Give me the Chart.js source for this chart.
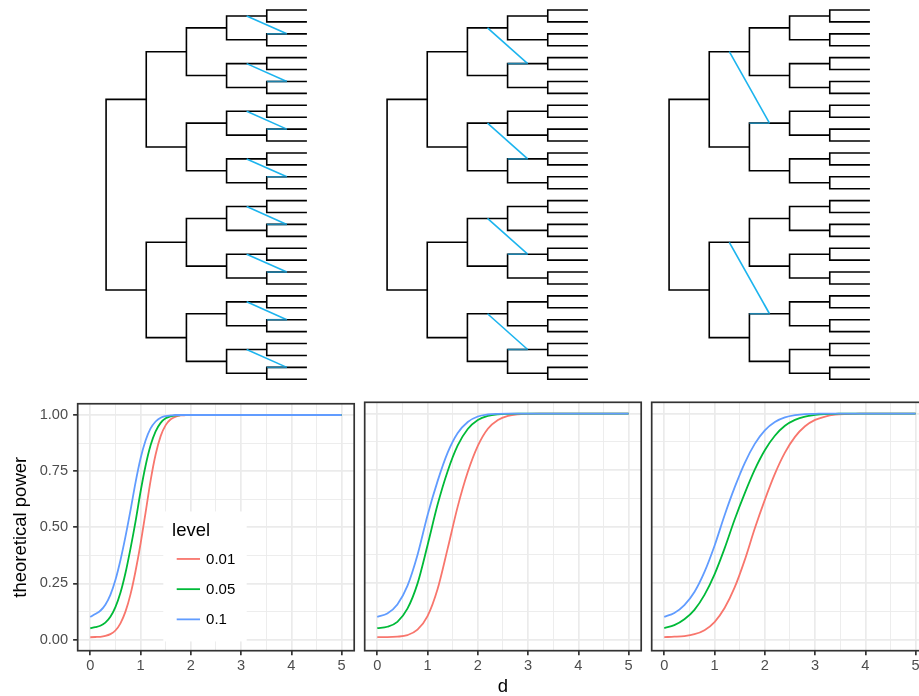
<!DOCTYPE html>
<html lang="en">
<head>
<meta charset="utf-8">
<title>Transfers on balanced trees and theoretical power</title>
<script src="https://cdn.jsdelivr.net/npm/chart.js@4.4.1/dist/chart.umd.min.js"></script>
<style>
  html, body { margin: 0; padding: 0; background: #fff; overflow: hidden; }
  body { width: 919px; height: 696px; position: relative; }
  canvas { position: absolute; }
</style>
</head>
<body>
<canvas id="tree1" width="241" height="390" style="left:86px;top:0"></canvas>
<canvas id="tree2" width="241" height="390" style="left:367px;top:0"></canvas>
<canvas id="tree3" width="241" height="390" style="left:649px;top:0"></canvas>
<canvas id="power1" width="360" height="306" style="left:0;top:390px"></canvas>
<canvas id="power2" width="290" height="306" style="left:360px;top:390px"></canvas>
<canvas id="power3" width="290" height="306" style="left:647px;top:390px"></canvas>
<script>
// --- data ---
const leafCount = 32;
const transferCladeSize = [4, 8, 16]; // one transfer inside every clade of this size

const levels = ['0.01', '0.05', '0.1'];
const levelColors = ['#F8766D', '#00BA38', '#619CFF'];
const legendTitle = 'level';

const dTicks = [0, 1, 2, 3, 4, 5];
const powerTicks = [0, 0.25, 0.5, 0.75, 1];

// panel 1 (steeper curves, sampled finer)
const dPanel1 = [0, 0.1, 0.2, 0.3, 0.4, 0.5, 0.6, 0.7, 0.8, 0.9, 1.0,
                 1.1, 1.2, 1.3, 1.4, 1.5, 1.6, 1.7, 1.8, 1.9, 2.0, 2.5, 3, 4, 5];
const p1Level01 = [0.010, 0.011, 0.012, 0.016, 0.024, 0.040, 0.072, 0.124, 0.201, 0.304, 0.426,
                   0.565, 0.708, 0.824, 0.906, 0.955, 0.981, 0.993, 0.998, 0.999, 1, 1, 1, 1, 1];
const p1Level05 = [0.050, 0.055, 0.061, 0.075, 0.101, 0.144, 0.208, 0.296, 0.405, 0.525, 0.658,
                   0.774, 0.865, 0.927, 0.965, 0.985, 0.994, 0.998, 0.999, 1, 1, 1, 1, 1, 1];
const p1Level10 = [0.100, 0.113, 0.128, 0.155, 0.199, 0.265, 0.353, 0.458, 0.575, 0.699, 0.806,
                   0.886, 0.940, 0.971, 0.988, 0.995, 0.998, 1, 1, 1, 1, 1, 1, 1, 1];

// panels 2 and 3
const dValues = [0, 0.2, 0.4, 0.6, 0.8, 1.0, 1.2, 1.4, 1.6, 1.8, 2.0,
                 2.2, 2.4, 2.6, 2.8, 3.0, 3.2, 3.4, 3.6, 3.8, 4.0, 5.0];
const p2Level01 = [0.010, 0.010, 0.012, 0.019, 0.043, 0.103, 0.223, 0.402, 0.588, 0.741, 0.857,
                   0.933, 0.972, 0.990, 0.997, 0.999, 1, 1, 1, 1, 1, 1];
const p2Level05 = [0.050, 0.056, 0.078, 0.136, 0.247, 0.417, 0.597, 0.745, 0.859, 0.932, 0.972,
                   0.990, 0.997, 0.999, 1, 1, 1, 1, 1, 1, 1, 1];
const p2Level10 = [0.100, 0.115, 0.155, 0.237, 0.374, 0.550, 0.701, 0.827, 0.914, 0.963, 0.987,
                   0.996, 0.999, 1, 1, 1, 1, 1, 1, 1, 1, 1];
const p3Level01 = [0.010, 0.012, 0.015, 0.023, 0.041, 0.077, 0.139, 0.230, 0.351, 0.491, 0.618,
                   0.733, 0.827, 0.897, 0.944, 0.972, 0.987, 0.995, 0.998, 0.999, 1, 1];
const p3Level05 = [0.050, 0.063, 0.089, 0.131, 0.197, 0.288, 0.403, 0.531, 0.647, 0.752, 0.838,
                   0.902, 0.946, 0.972, 0.987, 0.994, 0.998, 0.999, 1, 1, 1, 1];
const p3Level10 = [0.100, 0.117, 0.152, 0.210, 0.299, 0.415, 0.550, 0.673, 0.781, 0.866, 0.926,
                   0.963, 0.983, 0.993, 0.998, 0.999, 1, 1, 1, 1, 1, 1];

// --- styles ---
Chart.defaults.font.family = '"Liberation Sans", Arial, sans-serif';
const transferBlue = '#1CB4EE';
const transferBlueDark = '#1D7FA8';
const gridColor = '#EBEBEB';
const borderColor = '#333333';

// balanced binary tree, leaves at the deepest level
function buildClade(lo, hi, depth) {
    if (hi - lo === 1) return { depth: depth, y: lo, size: 1, kids: [] };
    const mid = (lo + hi) / 2;
    const a = buildClade(lo, mid, depth + 1);
    const b = buildClade(mid, hi, depth + 1);
    return { depth: depth, y: (a.y + b.y) / 2, size: hi - lo, kids: [a, b] };
}

function walk(node, fn) {
    fn(node);
    node.kids.forEach(k => walk(k, fn));
}

function drawTree(id, cladeSize) {
    const root = buildClade(0, leafCount, 0);
    const branches = [];
    const transfers = [];
    walk(root, n => {
        if (!n.kids.length) return;
        const [a, b] = n.kids;
        branches.push({ x: a.depth, y: a.y }, { x: n.depth, y: a.y },
                      { x: n.depth, y: b.y }, { x: b.depth, y: b.y }, { x: null, y: null });
        if (n.size === cladeSize) {
            // from the middle of the upper branch to the middle of the branch below
            const target = b.kids[0];
            transfers.push({ x: n.depth + 0.5, y: a.y }, { x: b.depth + 0.5, y: target.y },
                           { x: b.depth, y: target.y }, { x: null, y: null });
        }
    });

    new Chart(document.getElementById(id), {
        type: 'scatter',
        data: {
            datasets: [
                {
                    data: transfers,
                    showLine: true,
                    borderColor: transferBlue,
                    borderWidth: 1.6,
                    pointRadius: 0,
                    segment: {
                        borderColor: c => (c.p0DataIndex % 4 === 1 ? transferBlueDark : undefined)
                    }
                },
                {
                    data: branches,
                    showLine: true,
                    borderColor: '#000',
                    borderWidth: 1.6,
                    borderJoinStyle: 'miter',
                    pointRadius: 0
                }
            ]
        },
        options: {
            responsive: false,
            devicePixelRatio: 1,
            animation: false,
            events: [],
            layout: { padding: 0 },
            plugins: { legend: { display: false }, tooltip: { enabled: false } },
            scales: {
                x: { type: 'linear', display: false, min: -0.5, max: 5.5 },
                y: { type: 'linear', display: false, min: -0.84, max: 31.9, reverse: true }
            }
        }
    });
}

drawTree('tree1', transferCladeSize[0]);
drawTree('tree2', transferCladeSize[1]);
drawTree('tree3', transferCladeSize[2]);

// --- power panels ---
function withMinor(majors) {
    const out = [];
    majors.forEach((v, i) => {
        out.push(v);
        if (i < majors.length - 1) out.push((v + majors[i + 1]) / 2);
    });
    return out;
}

const panelBorder = {
    id: 'panelBorder',
    afterDraw(chart) {
        const { ctx, chartArea: a } = chart;
        ctx.save();
        ctx.strokeStyle = borderColor;
        ctx.lineWidth = 1.7;
        ctx.strokeRect(a.left, a.top, a.right - a.left, a.bottom - a.top);
        ctx.restore();
    }
};

// legend box inside the first panel
const levelLegend = {
    id: 'levelLegend',
    afterDatasetsDraw(chart) {
        const { ctx, chartArea: a } = chart;
        const x0 = a.left + 85.6;
        const y0 = a.top + 107.7;
        ctx.save();
        ctx.fillStyle = '#fff';
        ctx.fillRect(x0, y0, 83.4, 130);
        ctx.textBaseline = 'middle';
        ctx.textAlign = 'left';
        ctx.fillStyle = '#000';
        ctx.font = '18.5px "Liberation Sans", Arial, sans-serif';
        ctx.fillText(legendTitle, x0 + 8.8, y0 + 19.3);
        ctx.font = '15px "Liberation Sans", Arial, sans-serif';
        chart.data.datasets.forEach((ds, i) => {
            const y = y0 + 47.5 + i * 30.2;
            ctx.strokeStyle = ds.borderColor;
            ctx.lineWidth = 1.8;
            ctx.beginPath();
            ctx.moveTo(x0 + 13.4, y);
            ctx.lineTo(x0 + 36.7, y);
            ctx.stroke();
            ctx.fillStyle = '#000';
            ctx.fillText(ds.label, x0 + 42.8, y + 0.8);
        });
        ctx.restore();
    }
};

function drawPower(id, xs, series, opt) {
    const xGrid = withMinor(dTicks);
    const yGrid = withMinor(powerTicks);
    new Chart(document.getElementById(id), {
        type: 'scatter',
        data: {
            datasets: levels.map((lv, i) => ({
                label: lv,
                data: xs.map((x, j) => ({ x: x, y: series[i][j] })),
                showLine: true,
                borderColor: levelColors[i],
                borderWidth: 1.8,
                pointRadius: 0,
                cubicInterpolationMode: 'monotone',
                order: levels.length - 1 - i
            }))
        },
        options: {
            responsive: false,
            devicePixelRatio: 1,
            animation: false,
            events: [],
            layout: { padding: { top: 12.3, right: opt.padRight, left: 0, bottom: 0 } },
            plugins: { legend: { display: false }, tooltip: { enabled: false } },
            scales: {
                x: {
                    type: 'linear',
                    min: -0.25,
                    max: 5.25,
                    bounds: 'data',
                    afterBuildTicks: s => { s.ticks = xGrid.map(v => ({ value: v })); },
                    afterFit: s => { s.height = 45.3; },
                    border: { display: false },
                    grid: {
                        color: gridColor,
                        lineWidth: c => (dTicks.includes(c.tick.value) ? 1.7 : 0.9),
                        drawTicks: true,
                        tickLength: 4.6,
                        tickWidth: 1.7,
                        tickColor: c => (dTicks.includes(c.tick.value) ? borderColor : 'rgba(0,0,0,0)')
                    },
                    ticks: {
                        autoSkip: false,
                        maxRotation: 0,
                        padding: 2,
                        color: '#4D4D4D',
                        font: { size: 14.6 },
                        callback: v => (dTicks.includes(v) ? String(v) : '')
                    },
                    title: {
                        display: opt.showXTitle,
                        text: 'd',
                        color: '#000',
                        font: { size: 18.5, lineHeight: 1 },
                        padding: 0
                    }
                },
                y: {
                    type: 'linear',
                    min: -0.05,
                    max: 1.05,
                    bounds: 'data',
                    afterBuildTicks: s => { s.ticks = yGrid.map(v => ({ value: v })); },
                    afterFit: s => { s.width = opt.yWidth; },
                    border: { display: false },
                    grid: {
                        color: gridColor,
                        lineWidth: c => (powerTicks.includes(c.tick.value) ? 1.7 : 0.9),
                        drawTicks: opt.showYLabels,
                        tickLength: 4.6,
                        tickWidth: 1.7,
                        tickColor: c => (powerTicks.includes(c.tick.value) ? borderColor : 'rgba(0,0,0,0)')
                    },
                    ticks: {
                        display: opt.showYLabels,
                        autoSkip: false,
                        padding: 5,
                        color: '#4D4D4D',
                        font: { size: 14.6 },
                        callback: v => (powerTicks.includes(v) ? v.toFixed(2) : '')
                    },
                    title: {
                        display: opt.showYLabels,
                        text: 'theoretical power',
                        color: '#000',
                        font: { size: 18.5, lineHeight: 1 },
                        padding: { top: 11.8, bottom: 0 }
                    }
                }
            }
        },
        plugins: opt.legend ? [levelLegend, panelBorder] : [panelBorder]
    });
}

drawPower('power1', dPanel1, [p1Level01, p1Level05, p1Level10],
          { padRight: 5.8, yWidth: 77.7, showYLabels: true, showXTitle: false, legend: true });
drawPower('power2', dValues, [p2Level01, p2Level05, p2Level10],
          { padRight: 8.8, yWidth: 4.7, showYLabels: false, showXTitle: true, legend: false });
drawPower('power3', dValues, [p3Level01, p3Level05, p3Level10],
          { padRight: 8.8, yWidth: 4.7, showYLabels: false, showXTitle: false, legend: false });
</script>
</body>
</html>
